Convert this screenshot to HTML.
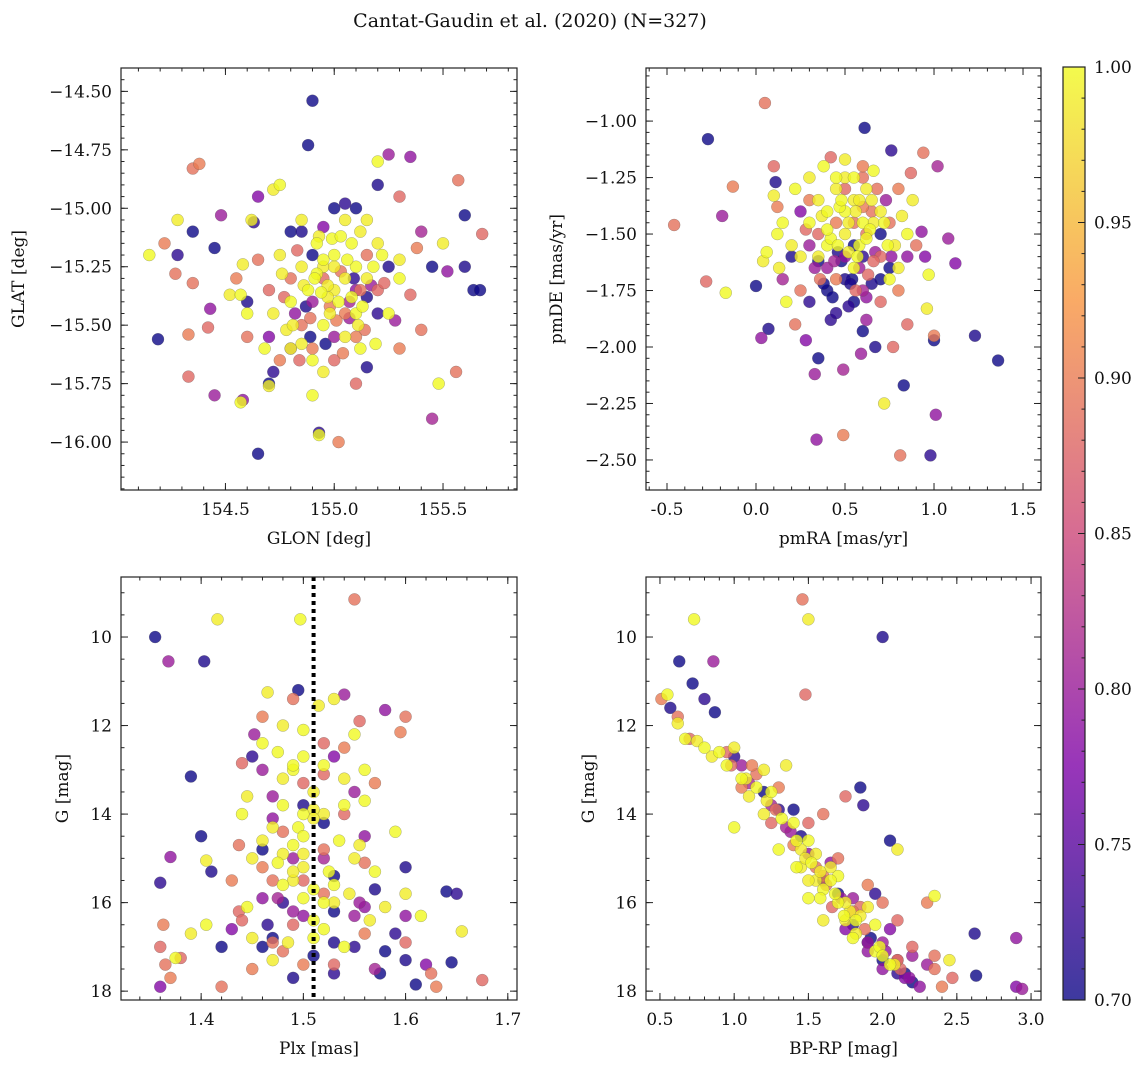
<!DOCTYPE html>
<html><head><meta charset="utf-8"><style>
html,body{margin:0;padding:0;background:#fff;}
svg text{font-family:"DejaVu Serif","Liberation Serif",serif;fill:#111;}
</style></head><body>
<svg id="fig" width="1148" height="1067" viewBox="0 0 1148 1067" xmlns="http://www.w3.org/2000/svg">
<defs><linearGradient id="cbg" x1="0" y1="1" x2="0" y2="0">
<stop offset="0" stop-color="#0d0887"/><stop offset="0.25" stop-color="#7e03a8"/><stop offset="0.5" stop-color="#cc4778"/><stop offset="0.75" stop-color="#f89540"/><stop offset="1" stop-color="#f0f921"/></linearGradient></defs>
<text x="530" y="27" font-size="19" text-anchor="middle">Cantat-Gaudin et al. (2020) (N=327)</text>
</svg>
<script>
// Panel 1: GLON vs GLAT
const p1x=[154.9,154.88,155.2,154.19,154.65,154.93,155.64,155.67,155.6,155.45,155.2,154.45,154.6,154.7,154.72,154.8,154.85,155.0,155.05,155.1,155.25,154.35,154.28,154.9,155.15,155.6,154.63,155.15,
155.25,155.35,154.65,154.48,154.43,155.45,154.45,155.52,154.95,155.0,154.8,155.1,154.9,154.7,155.28,154.58,155.4,
154.35,154.38,155.57,155.68,154.22,154.27,154.33,154.33,154.35,154.42,155.02,155.4,155.3,155.38,155.56,155.1,155.3,154.6,154.7,154.75,154.85,154.95,155.05,155.15,155.2,154.9,154.8,155.0,154.55,154.65,155.35,155.1,
154.15,154.28,154.75,154.72,155.2,154.58,154.57,154.52,154.57,154.7,155.48,155.5,155.3,155.3,154.93,154.78,154.8,154.85,154.9,154.95,154.88,154.95,155.0,155.05,155.1,155.15,155.02,154.98,155.08,155.12,154.92,154.85,155.18,155.0,154.95,155.05,155.1,154.85,155.12,154.75,154.8,155.2,155.25,154.62,154.6,155.15,154.9,155.05,
154.92,154.97,155.03,155.08,154.87,154.83,155.13,155.17,154.93,155.01,155.06,154.96,154.89,155.11,155.04,154.99,154.82,154.77,155.22,154.86,155.09,154.94,155.14,154.72,155.07,154.91,155.0,154.84,155.19,154.98,
154.76,155.03,154.89,155.12,154.95,154.81,155.07,154.68,155.23,154.97];
const p1y=[-14.54,-14.73,-14.9,-15.56,-16.05,-15.96,-15.35,-15.35,-15.25,-15.25,-15.45,-15.17,-15.4,-15.75,-15.7,-15.1,-15.1,-15.0,-14.98,-15.0,-15.25,-15.1,-15.2,-15.2,-15.68,-15.03,-15.06,-15.38,
-14.77,-14.78,-14.95,-15.03,-15.43,-15.9,-15.8,-15.27,-15.08,-15.55,-15.6,-15.35,-15.4,-15.55,-15.48,-15.82,-15.1,
-14.83,-14.81,-14.88,-15.11,-15.15,-15.28,-15.72,-15.54,-15.32,-15.51,-16.0,-15.52,-14.95,-15.17,-15.7,-15.75,-15.6,-15.55,-15.35,-15.65,-15.5,-15.3,-15.45,-15.2,-15.35,-15.6,-15.3,-15.65,-15.3,-15.22,-15.37,-15.55,
-15.2,-15.05,-14.9,-14.92,-14.8,-15.24,-15.37,-15.37,-15.83,-15.76,-15.75,-15.15,-15.3,-15.22,-15.97,-15.52,-15.6,-15.58,-15.65,-15.7,-15.35,-15.25,-15.2,-15.3,-15.25,-15.3,-15.4,-15.45,-15.15,-15.1,-15.15,-15.25,-15.25,-15.35,-15.5,-15.55,-15.45,-15.05,-15.6,-15.2,-15.4,-15.15,-15.45,-15.05,-15.45,-15.05,-15.8,-15.05,
-15.28,-15.33,-15.27,-15.38,-15.42,-15.18,-15.42,-15.33,-15.12,-15.48,-15.22,-15.58,-15.47,-15.5,-15.62,-15.13,-15.45,-15.38,-15.2,-15.33,-15.3,-15.36,-15.52,-15.45,-15.4,-15.3,-15.25,-15.65,-15.58,-15.42,
-15.28,-15.12,-15.55,-15.35,-15.22,-15.5,-15.47,-15.6,-15.32,-15.38];
const p1c=[0.7,0.7,0.71,0.7,0.7,0.72,0.7,0.7,0.71,0.7,0.72,0.7,0.71,0.7,0.72,0.7,0.71,0.7,0.72,0.7,0.71,0.7,0.72,0.7,0.71,0.7,0.72,0.71,
0.8,0.79,0.78,0.8,0.79,0.81,0.8,0.79,0.78,0.8,0.81,0.79,0.8,0.78,0.8,0.79,0.81,
0.89,0.9,0.89,0.88,0.9,0.89,0.88,0.9,0.89,0.88,0.9,0.89,0.88,0.9,0.89,0.88,0.9,0.89,0.88,0.9,0.89,0.88,0.9,0.89,0.88,0.9,0.89,0.88,0.9,0.89,0.88,0.9,
1,0.99,1,0.99,1,0.99,1,0.99,1,0.99,1,0.99,1,0.99,1,0.99,1,0.99,1,0.99,1,0.99,1,0.99,1,0.99,1,0.99,1,0.99,1,0.99,1,0.99,1,0.99,1,0.99,1,0.99,1,0.99,1,0.99,1,0.99,1,0.99,
1,0.99,0.89,1,0.71,0.88,1,0.8,0.99,0.9,1,0.7,0.89,0.99,0.9,1,0.79,0.88,1,0.99,0.72,1,0.89,0.99,0.81,1,0.99,0.88,1,0.9,
0.99,1,0.7,0.89,1,0.99,0.8,1,0.88,0.99];
// Panel 2: pmRA vs pmDE
const p2x=[-0.27,0.11,0.61,0.76,0.0,0.07,0.35,0.42,0.6,0.67,0.83,0.98,1.0,1.23,1.36,0.3,0.4,0.5,0.55,0.6,0.7,0.65,0.35,0.45,0.75,0.2,0.55,
-0.19,0.03,0.28,0.33,0.34,0.49,0.59,1.01,1.12,1.08,1.02,0.93,0.73,0.25,0.3,0.5,0.6,0.4,0.85,0.95,0.62,0.15,
-0.46,-0.28,-0.13,0.05,0.1,0.12,0.22,0.42,0.49,0.81,0.77,1.0,0.94,0.87,0.8,0.6,0.5,0.45,0.55,0.7,0.8,0.9,0.35,0.3,0.65,0.7,0.45,0.25,0.85,0.6,0.75,
-0.17,0.04,0.06,0.1,0.12,0.13,0.17,0.2,0.22,0.3,0.38,0.5,0.55,0.62,0.66,0.72,0.75,0.8,0.85,0.88,0.97,0.96,0.3,0.35,0.4,0.45,0.5,0.55,0.6,0.65,0.4,0.5,0.58,0.7,0.45,0.25,0.15,0.35,0.55,0.78,
0.42,0.52,0.62,0.48,0.57,0.67,0.37,0.47,0.53,0.63,0.72,0.43,0.33,0.58,0.68,0.52,0.62,0.46,0.38,0.56,0.66,0.74,0.5,0.6,0.44,0.54,0.64,0.28,0.82,0.48,
0.58,0.4,0.7,0.52,0.36,0.62,0.46,0.56,0.66,0.76];
const p2y=[-1.08,-1.27,-1.03,-1.13,-1.73,-1.92,-2.05,-1.88,-1.93,-2.0,-2.17,-2.48,-1.97,-1.95,-2.06,-1.8,-1.75,-1.7,-1.8,-1.6,-1.5,-1.72,-1.62,-1.85,-1.65,-1.6,-1.55,
-1.42,-1.96,-1.97,-2.12,-2.41,-2.1,-2.03,-2.3,-1.63,-1.52,-1.2,-1.49,-1.35,-1.4,-1.55,-1.6,-1.75,-1.65,-1.6,-1.6,-1.88,-1.7,
-1.46,-1.71,-1.29,-0.92,-1.2,-1.38,-1.9,-1.16,-2.39,-2.48,-2.0,-1.95,-1.14,-1.23,-1.3,-1.25,-1.3,-1.45,-1.45,-1.6,-1.75,-1.55,-1.5,-1.35,-1.4,-1.8,-1.7,-1.75,-1.9,-1.2,-1.45,
-1.76,-1.62,-1.58,-1.33,-1.5,-1.65,-1.8,-1.55,-1.3,-1.25,-1.2,-1.17,-1.25,-1.3,-1.22,-2.25,-1.7,-1.65,-1.5,-1.35,-1.68,-1.83,-1.45,-1.35,-1.4,-1.3,-1.4,-1.35,-1.45,-1.35,-1.55,-1.5,-1.55,-1.4,-1.25,-1.6,-1.45,-1.6,-1.65,-1.55,
-1.52,-1.45,-1.5,-1.62,-1.6,-1.58,-1.42,-1.38,-1.72,-1.68,-1.45,-1.78,-1.65,-1.35,-1.3,-1.82,-1.78,-1.55,-1.72,-1.4,-1.62,-1.55,-1.25,-1.38,-1.62,-1.7,-1.48,-1.48,-1.42,-1.35,
-1.65,-1.48,-1.7,-1.58,-1.7,-1.52,-1.58,-1.75,-1.45,-1.6];
const p2c=[0.7,0.71,0.7,0.72,0.7,0.71,0.7,0.72,0.7,0.71,0.7,0.72,0.7,0.71,0.7,0.72,0.7,0.71,0.7,0.72,0.7,0.71,0.7,0.72,0.7,0.71,0.7,
0.8,0.79,0.78,0.8,0.79,0.81,0.8,0.79,0.78,0.8,0.81,0.79,0.8,0.78,0.8,0.79,0.81,0.8,0.79,0.78,0.8,0.81,
0.89,0.88,0.9,0.89,0.88,0.9,0.89,0.88,0.9,0.89,0.88,0.9,0.89,0.88,0.9,0.89,0.88,0.9,0.89,0.88,0.9,0.89,0.88,0.9,0.89,0.88,0.9,0.89,0.88,0.9,0.89,
1,0.99,1,0.99,1,0.99,1,0.99,1,0.99,1,0.99,1,0.99,1,0.99,1,0.99,1,0.99,1,0.99,1,0.99,1,0.99,1,0.99,1,0.99,1,0.99,1,0.99,1,0.99,1,0.99,1,0.99,
1,0.99,0.89,0.7,1,0.8,0.99,1,0.71,0.88,1,0.7,0.8,0.99,0.89,0.72,0.79,1,0.7,0.99,0.88,1,0.99,0.9,0.81,0.7,1,0.88,0.99,1,
0.8,1,0.7,0.99,0.89,1,0.71,0.88,0.99,0.79];
// Panel 3: Plx vs G
const p3x=[1.355,1.403,1.39,1.36,1.40,1.41,1.42,1.465,1.47,1.49,1.495,1.45,1.46,1.5,1.53,1.55,1.58,1.6,1.575,1.59,1.61,1.6,1.64,1.65,1.645,1.57,1.52,1.48,
1.368,1.37,1.36,1.452,1.47,1.475,1.54,1.58,1.53,1.55,1.52,1.5,1.46,1.43,1.555,1.6,1.57,1.49,1.56,1.62,
1.55,1.36,1.363,1.365,1.38,1.37,1.42,1.437,1.43,1.437,1.44,1.46,1.49,1.555,1.595,1.6,1.675,1.63,1.625,1.6,1.56,1.52,1.5,1.46,1.48,1.54,1.57,1.56,1.53,1.45,1.47,1.44,
1.497,1.416,1.375,1.39,1.405,1.405,1.44,1.445,1.445,1.45,1.46,1.465,1.475,1.48,1.48,1.49,1.495,1.5,1.5,1.51,1.51,1.515,1.52,1.52,1.525,1.53,1.535,1.54,1.54,1.545,1.55,1.555,1.56,1.565,1.57,1.58,1.59,1.6,1.615,1.655,1.475,1.485,1.5,1.53,1.56,1.46,1.49,1.47,
1.48,1.5,1.52,1.49,1.51,1.53,1.47,1.5,1.52,1.54,1.46,1.49,1.51,1.53,1.48,1.5,1.55,1.47,1.52,1.49,1.51,1.54,1.46,1.5,1.53,1.48,1.56,1.5,1.52,1.49,
1.51,1.47,1.53,1.5,1.45,1.55,1.49,1.52,1.48,1.51];
const p3y=[10.0,10.55,13.15,15.55,14.5,15.3,17.0,16.5,16.8,17.7,11.2,12.7,14.8,13.8,16.2,17.0,17.1,17.3,17.6,16.7,17.85,15.2,15.75,15.8,17.35,15.7,14.2,16.0,
10.55,14.97,17.9,12.2,14.1,15.9,11.3,11.65,12.7,13.5,15.0,16.3,13.0,16.6,16.0,16.3,17.5,15.0,14.5,17.4,
9.15,17.0,16.5,17.4,17.25,17.7,17.9,16.2,15.5,14.7,12.85,11.8,11.4,11.9,12.15,11.8,17.75,17.9,17.6,16.9,16.7,15.8,15.5,15.2,14.4,14.0,13.3,15.1,17.4,17.5,16.9,16.4,
9.6,9.6,17.25,16.7,16.5,15.05,14.0,13.6,16.1,16.8,12.4,11.25,12.6,13.2,13.8,15.5,14.3,14.9,15.9,13.5,16.4,11.55,12.9,14.0,15.3,16.0,14.6,13.2,17.0,15.8,12.2,14.7,13.7,16.4,15.3,16.1,14.4,15.8,16.3,16.65,15.1,16.9,12.1,11.4,13.0,14.6,13.0,17.3,
15.6,15.2,14.8,16.2,15.7,15.4,14.3,13.3,16.6,12.5,15.9,14.7,13.9,16.9,17.1,12.7,15.0,13.6,16.0,16.5,14.1,13.8,17.0,17.4,15.6,12.0,16.1,14.0,13.1,15.3,
16.8,15.5,17.6,14.5,15.0,16.3,12.9,12.4,14.9,17.2];
const p3c=[0.7,0.71,0.7,0.72,0.7,0.71,0.7,0.72,0.7,0.71,0.7,0.72,0.7,0.71,0.7,0.72,0.7,0.71,0.7,0.72,0.7,0.71,0.7,0.72,0.7,0.71,0.7,0.72,
0.8,0.79,0.78,0.8,0.79,0.81,0.8,0.79,0.78,0.8,0.81,0.79,0.8,0.78,0.8,0.79,0.81,0.8,0.79,0.78,
0.89,0.88,0.9,0.89,0.88,0.9,0.89,0.88,0.9,0.89,0.88,0.9,0.89,0.88,0.9,0.89,0.88,0.9,0.89,0.88,0.9,0.89,0.88,0.9,0.89,0.88,0.9,0.89,0.88,0.9,0.89,0.88,
1,0.99,1,0.99,1,0.99,1,0.99,1,0.99,1,0.99,1,0.99,1,0.99,1,0.99,1,0.99,1,0.99,1,0.99,1,0.99,1,0.99,1,0.99,1,0.99,1,0.99,1,0.99,1,0.99,1,0.99,1,0.99,1,0.99,1,0.99,1,0.99,
1,0.99,0.89,0.8,1,0.7,0.99,0.88,1,0.9,0.79,1,0.99,0.71,0.89,1,0.99,0.8,1,0.88,0.99,1,0.7,0.9,1,0.99,0.79,1,0.88,0.99,
1,0.89,0.72,1,0.99,0.8,1,0.88,0.99,0.7];
// Panel 4: BP-RP vs G
const p4x=[0.63,0.57,0.72,0.8,0.87,2.0,1.85,1.87,2.05,2.62,2.63,1.3,1.6,1.9,2.0,2.1,1.7,1.45,1.2,1.0,2.2,1.8,1.4,1.95,
0.86,2.9,2.9,2.94,2.0,2.1,2.2,2.25,2.15,1.05,1.25,1.5,1.8,2.05,2.3,1.65,1.35,2.0,1.9,1.75,
1.46,1.48,0.51,0.62,0.7,1.12,1.6,1.75,2.3,2.35,2.47,2.4,2.35,2.1,1.9,1.7,1.5,1.3,1.15,0.95,1.4,1.8,2.2,1.6,2.0,1.25,1.05,
0.73,1.5,0.55,0.62,0.67,0.75,0.8,0.85,0.9,1.0,1.05,1.1,1.0,1.2,1.25,1.35,1.4,1.45,1.5,1.55,1.6,1.65,1.7,1.75,1.8,1.85,1.95,2.1,2.35,2.45,1.5,1.6,1.3,1.2,0.95,1.55,1.7,1.9,2.05,
1.45,1.52,1.58,1.62,1.68,1.72,1.78,1.82,1.88,1.92,1.98,2.02,2.08,2.12,1.38,1.42,1.48,1.55,1.65,1.75,1.85,1.95,2.15,1.1,1.15,1.22,1.28,1.32,0.98,1.08,
1.42,1.5,1.58,1.66,1.74,1.82,1.9,2.0,2.1,2.18];
const p4y=[10.55,11.6,11.05,11.4,11.7,10.0,13.4,13.8,14.6,16.7,17.65,13.9,15.5,16.9,17.3,17.6,15.8,14.5,13.5,12.7,17.8,16.5,13.9,15.8,
10.55,16.8,17.9,17.95,17.5,17.3,17.2,17.9,17.7,12.9,13.8,14.9,15.9,16.6,17.4,15.1,14.3,16.9,17.1,16.6,
9.15,11.3,11.4,11.8,12.3,12.9,14.0,13.6,16.0,17.5,17.7,17.9,17.2,16.4,15.6,15.0,14.2,13.4,13.1,12.6,14.7,16.2,17.0,15.4,16.0,14.2,13.4,
9.6,9.6,11.3,11.95,12.3,12.35,12.5,12.7,12.6,12.5,13.2,13.6,14.3,13.0,13.5,12.9,14.2,15.2,14.6,15.5,15.7,15.2,16.0,16.4,16.8,16.3,17.1,14.8,15.85,17.3,15.9,16.4,14.8,14.0,12.9,14.9,15.4,16.1,17.4,
14.8,15.1,15.3,15.6,15.8,15.9,16.2,16.4,16.6,16.8,17.0,17.1,17.4,17.5,14.4,14.6,15.0,15.2,15.5,16.0,16.1,16.5,17.6,13.3,13.4,13.7,13.9,14.1,12.9,13.2,
15.2,15.5,15.9,16.1,16.3,16.7,16.9,17.2,17.3,17.7];
const p4c=[0.7,0.71,0.7,0.72,0.7,0.71,0.7,0.72,0.7,0.71,0.7,0.72,0.7,0.71,0.7,0.72,0.7,0.71,0.7,0.72,0.7,0.71,0.7,0.72,
0.8,0.79,0.78,0.8,0.79,0.81,0.8,0.79,0.78,0.8,0.81,0.79,0.8,0.78,0.8,0.79,0.81,0.8,0.79,0.78,
0.89,0.88,0.9,0.89,0.88,0.9,0.89,0.88,0.9,0.89,0.88,0.9,0.89,0.88,0.9,0.89,0.88,0.9,0.89,0.88,0.9,0.89,0.88,0.9,0.89,0.88,0.9,
1,0.99,1,0.99,1,0.99,1,0.99,1,0.99,1,0.99,1,0.99,1,0.99,1,0.99,1,0.99,1,0.99,1,0.99,1,0.99,1,0.99,1,0.99,1,0.99,1,0.99,1,0.99,1,0.99,1,0.99,
1,0.99,0.88,1,0.8,0.99,1,0.89,0.7,1,0.79,0.99,0.88,0.8,1,0.99,0.89,1,0.99,0.88,1,0.7,0.81,1,0.99,0.89,1,0.88,0.99,1,
0.99,1,0.88,1,0.99,0.8,1,0.89,0.79,0.88];
const plxRef=1.51;
const cbTicks=[0.70,0.75,0.80,0.85,0.90,0.95,1.00];

const NS='http://www.w3.org/2000/svg';
const svg=document.getElementById('fig');
function mk(tag,attrs,parent){const e=document.createElementNS(NS,tag);for(const k in attrs)e.setAttribute(k,attrs[k]);(parent||svg).appendChild(e);return e;}
const stops=[[13,8,135],[126,3,168],[204,71,120],[248,149,64],[240,249,33]];
function plasma(p){let t=Math.max(0,Math.min(1,(p-0.7)/0.3))*4;const i=Math.min(3,Math.floor(t)),f=t-i;const a=stops[i],b=stops[i+1];
return 'rgb('+a.map((v,k)=>Math.round(v+(b[k]-v)*f)).join(',')+')';}

function panel(o){
  const {L,T,W,H,xmin,xmax,ymin,ymax,inv}=o;
  const sx=v=>L+(v-xmin)/(xmax-xmin)*W;
  const sy=v=>inv? T+(v-ymin)/(ymax-ymin)*H : T+H-(v-ymin)/(ymax-ymin)*H;
  const g=mk('g',{});
  
  
  const idx=o.x.map((_,i)=>i).sort((a,b)=>o.c[a]-o.c[b]);
  idx.forEach(i=>{const c=mk('circle',{cx:sx(o.x[i]),cy:sy(o.y[i]),r:6,fill:plasma(o.c[i]),'fill-opacity':0.8,stroke:'#555','stroke-width':0.4,'stroke-opacity':0.6},g);
    
    });
  if(o.vline!==undefined){const l=mk('line',{x1:sx(o.vline),x2:sx(o.vline),y1:T,y2:T+H,stroke:'#000','stroke-width':4,'stroke-dasharray':'4,4'},g);
    
    }
  mk('rect',{x:L,y:T,width:W,height:H,fill:'none',stroke:'#222','stroke-width':1.2},g);
  const eps=1e-9;
  function xt(step,len){for(let v=Math.ceil(xmin/step-eps)*step;v<=xmax+eps;v+=step){const x=sx(v);mk('line',{x1:x,x2:x,y1:T+H,y2:T+H-len,stroke:'#222','stroke-width':1},g);mk('line',{x1:x,x2:x,y1:T,y2:T+len,stroke:'#222','stroke-width':1},g);}}
  function yt(step,len){for(let v=Math.ceil(ymin/step-eps)*step;v<=ymax+eps;v+=step){const y=sy(v);mk('line',{x1:L,x2:L+len,y1:y,y2:y,stroke:'#222','stroke-width':1},g);mk('line',{x1:L+W,x2:L+W-len,y1:y,y2:y,stroke:'#222','stroke-width':1},g);}}
  xt(o.xminor,3.5);xt(o.xmajor,7);yt(o.yminor,3.5);yt(o.ymajor,7);
  for(let v=Math.ceil(xmin/o.xmajor-eps)*o.xmajor;v<=xmax+eps;v+=o.xmajor){const t=mk('text',{x:sx(v),y:T+H+25,'font-size':17,'text-anchor':'middle'},g);t.textContent=v.toFixed(o.xdec);
    
    }
  for(let v=Math.ceil(ymin/o.ymajor-eps)*o.ymajor;v<=ymax+eps;v+=o.ymajor){const t=mk('text',{x:L-9,y:sy(v)+6,'font-size':17,'text-anchor':'end'},g);t.textContent=(v<0?'\u2212':'')+Math.abs(v).toFixed(o.ydec);
    
    }
  const xl=mk('text',{x:L+W/2,y:T+H+54,'font-size':17,'text-anchor':'middle'},g);xl.textContent=o.xlabel;
  
  
  const yl=mk('text',{x:o.ylx,y:T+H/2,'font-size':17,'text-anchor':'middle',transform:'rotate(-90 '+o.ylx+' '+(T+H/2)+')'},g);yl.textContent=o.ylabel;
  
  
}
panel({name:'glon-glat-panel',L:121,T:68,W:396,H:422,xmin:154.02,xmax:155.84,ymin:-16.205,ymax:-14.40,x:p1x,y:p1y,c:p1c,xmajor:0.5,xminor:0.1,ymajor:0.25,yminor:0.05,xdec:1,ydec:2,xlabel:'GLON [deg]',ylabel:'GLAT [deg]',ylx:24});
panel({name:'proper-motion-panel',L:646,T:68,W:395,H:422,xmin:-0.618,xmax:1.601,ymin:-2.633,ymax:-0.765,x:p2x,y:p2y,c:p2c,xmajor:0.5,xminor:0.1,ymajor:0.25,yminor:0.05,xdec:1,ydec:2,xlabel:'pmRA [mas/yr]',ylabel:'pmDE [mas/yr]',ylx:562});
panel({name:'parallax-magnitude-panel',L:121,T:577,W:396,H:423,xmin:1.3216,xmax:1.709,ymin:8.644,ymax:18.2,inv:true,x:p3x,y:p3y,c:p3c,xmajor:0.1,xminor:0.02,ymajor:2,yminor:0.5,xdec:1,ydec:0,xlabel:'Plx [mas]',ylabel:'G [mag]',ylx:68,vline:plxRef});
panel({name:'color-magnitude-panel',L:646,T:577,W:395,H:423,xmin:0.406,xmax:3.067,ymin:8.644,ymax:18.2,inv:true,x:p4x,y:p4y,c:p4c,xmajor:0.5,xminor:0.1,ymajor:2,yminor:0.5,xdec:1,ydec:0,xlabel:'BP-RP [mag]',ylabel:'G [mag]',ylx:594});

// colorbar
const cb=mk('g',{});


const cL=1063,cT=67,cW=22,cH=933;
mk('rect',{x:cL,y:cT,width:cW,height:cH,fill:'url(#cbg)','fill-opacity':0.8},cb);
mk('rect',{x:cL,y:cT,width:cW,height:cH,fill:'none',stroke:'#222','stroke-width':1.2},cb);
const cy=v=>cT+cH-(v-0.7)/0.3*cH;
for(let v=0.7;v<=1.0001;v+=0.01){mk('line',{x1:cL+cW,x2:cL+cW-3.5,y1:cy(v),y2:cy(v),stroke:'#222','stroke-width':1},cb);}
cbTicks.forEach(v=>{mk('line',{x1:cL+cW,x2:cL+cW-7,y1:cy(v),y2:cy(v),stroke:'#222','stroke-width':1},cb);
  const t=mk('text',{x:cL+cW+9,y:cy(v)+6,'font-size':17},cb);t.textContent=v.toFixed(2);
  
  });
</script>
</body></html>
